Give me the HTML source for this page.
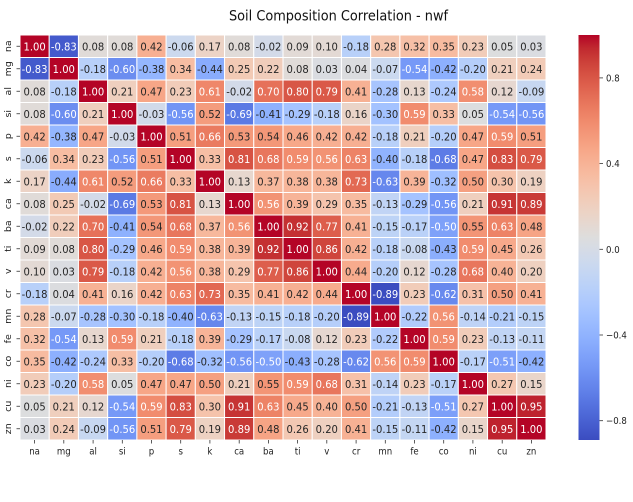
<!DOCTYPE html>
<html><head><meta charset="utf-8">
<style>
html,body{margin:0;padding:0;background:#fff;}
svg{display:block;}
text{font-family:"DejaVu Sans","Liberation Sans",sans-serif;}
.r text{font-size:10px;fill:#262626;text-anchor:middle;}
.tk{font-size:8.6px;fill:#222;}
</style></head>
<body>
<svg id="s" width="633" height="502" viewBox="0 0 633 502" xmlns="http://www.w3.org/2000/svg">
<defs>
<linearGradient id="cb" x1="0" y1="1" x2="0" y2="0">
<stop offset="0" stop-color="rgb(59,76,192)"/><stop offset="0.03125" stop-color="rgb(68,90,204)"/><stop offset="0.0625" stop-color="rgb(77,104,215)"/><stop offset="0.09375" stop-color="rgb(87,117,225)"/><stop offset="0.125" stop-color="rgb(98,130,234)"/><stop offset="0.15625" stop-color="rgb(108,142,241)"/><stop offset="0.1875" stop-color="rgb(119,154,247)"/><stop offset="0.21875" stop-color="rgb(130,165,251)"/><stop offset="0.25" stop-color="rgb(141,176,254)"/><stop offset="0.28125" stop-color="rgb(152,185,255)"/><stop offset="0.3125" stop-color="rgb(163,194,255)"/><stop offset="0.34375" stop-color="rgb(174,201,253)"/><stop offset="0.375" stop-color="rgb(184,208,249)"/><stop offset="0.40625" stop-color="rgb(194,213,244)"/><stop offset="0.4375" stop-color="rgb(204,217,238)"/><stop offset="0.46875" stop-color="rgb(213,219,230)"/><stop offset="0.5" stop-color="rgb(221,221,221)"/><stop offset="0.53125" stop-color="rgb(229,216,209)"/><stop offset="0.5625" stop-color="rgb(236,211,197)"/><stop offset="0.59375" stop-color="rgb(241,204,185)"/><stop offset="0.625" stop-color="rgb(245,196,173)"/><stop offset="0.65625" stop-color="rgb(247,187,160)"/><stop offset="0.6875" stop-color="rgb(247,177,148)"/><stop offset="0.71875" stop-color="rgb(247,166,135)"/><stop offset="0.75" stop-color="rgb(244,154,123)"/><stop offset="0.78125" stop-color="rgb(241,141,111)"/><stop offset="0.8125" stop-color="rgb(236,127,99)"/><stop offset="0.84375" stop-color="rgb(229,112,88)"/><stop offset="0.875" stop-color="rgb(222,96,77)"/><stop offset="0.90625" stop-color="rgb(213,80,66)"/><stop offset="0.9375" stop-color="rgb(203,62,56)"/><stop offset="0.96875" stop-color="rgb(192,40,47)"/><stop offset="1" stop-color="rgb(180,4,38)"/>
</linearGradient>
</defs>
<rect width="633" height="502" fill="#fff"/>
<text x="229" y="0" transform="translate(0,20.5) scale(1,1.1)" text-anchor="start" font-size="12.9" fill="#111">Soil Composition Correlation - nwf</text>
<g id="rects"></g>
<g id="rows">
<g class="r" transform="translate(0,46.25) scale(1,1.1)"><text x="34.6" y="3.65">1.00</text><text x="63.8" y="3.65">-0.83</text><text x="93.1" y="3.65">0.08</text><text x="122.3" y="3.65">0.08</text><text x="151.5" y="3.65">0.42</text><text x="180.7" y="3.65">-0.06</text><text x="209.9" y="3.65">0.17</text><text x="239.2" y="3.65">0.08</text><text x="268.4" y="3.65">-0.02</text><text x="297.6" y="3.65">0.09</text><text x="326.8" y="3.65">0.10</text><text x="356.1" y="3.65">-0.18</text><text x="385.3" y="3.65">0.28</text><text x="414.5" y="3.65">0.32</text><text x="443.7" y="3.65">0.35</text><text x="472.9" y="3.65">0.23</text><text x="502.2" y="3.65">0.05</text><text x="531.4" y="3.65">0.03</text></g>
<g class="r" transform="translate(0,68.75) scale(1,1.1)"><text x="34.6" y="3.65">-0.83</text><text x="63.8" y="3.65">1.00</text><text x="93.1" y="3.65">-0.18</text><text x="122.3" y="3.65">-0.60</text><text x="151.5" y="3.65">-0.38</text><text x="180.7" y="3.65">0.34</text><text x="209.9" y="3.65">-0.44</text><text x="239.2" y="3.65">0.25</text><text x="268.4" y="3.65">0.22</text><text x="297.6" y="3.65">0.08</text><text x="326.8" y="3.65">0.03</text><text x="356.1" y="3.65">0.04</text><text x="385.3" y="3.65">-0.07</text><text x="414.5" y="3.65">-0.54</text><text x="443.7" y="3.65">-0.42</text><text x="472.9" y="3.65">-0.20</text><text x="502.2" y="3.65">0.21</text><text x="531.4" y="3.65">0.24</text></g>
<g class="r" transform="translate(0,91.25) scale(1,1.1)"><text x="34.6" y="3.65">0.08</text><text x="63.8" y="3.65">-0.18</text><text x="93.1" y="3.65">1.00</text><text x="122.3" y="3.65">0.21</text><text x="151.5" y="3.65">0.47</text><text x="180.7" y="3.65">0.23</text><text x="209.9" y="3.65">0.61</text><text x="239.2" y="3.65">-0.02</text><text x="268.4" y="3.65">0.70</text><text x="297.6" y="3.65">0.80</text><text x="326.8" y="3.65">0.79</text><text x="356.1" y="3.65">0.41</text><text x="385.3" y="3.65">-0.28</text><text x="414.5" y="3.65">0.13</text><text x="443.7" y="3.65">-0.24</text><text x="472.9" y="3.65">0.58</text><text x="502.2" y="3.65">0.12</text><text x="531.4" y="3.65">-0.09</text></g>
<g class="r" transform="translate(0,113.75) scale(1,1.1)"><text x="34.6" y="3.65">0.08</text><text x="63.8" y="3.65">-0.60</text><text x="93.1" y="3.65">0.21</text><text x="122.3" y="3.65">1.00</text><text x="151.5" y="3.65">-0.03</text><text x="180.7" y="3.65">-0.56</text><text x="209.9" y="3.65">0.52</text><text x="239.2" y="3.65">-0.69</text><text x="268.4" y="3.65">-0.41</text><text x="297.6" y="3.65">-0.29</text><text x="326.8" y="3.65">-0.18</text><text x="356.1" y="3.65">0.16</text><text x="385.3" y="3.65">-0.30</text><text x="414.5" y="3.65">0.59</text><text x="443.7" y="3.65">0.33</text><text x="472.9" y="3.65">0.05</text><text x="502.2" y="3.65">-0.54</text><text x="531.4" y="3.65">-0.56</text></g>
<g class="r" transform="translate(0,136.25) scale(1,1.1)"><text x="34.6" y="3.65">0.42</text><text x="63.8" y="3.65">-0.38</text><text x="93.1" y="3.65">0.47</text><text x="122.3" y="3.65">-0.03</text><text x="151.5" y="3.65">1.00</text><text x="180.7" y="3.65">0.51</text><text x="209.9" y="3.65">0.66</text><text x="239.2" y="3.65">0.53</text><text x="268.4" y="3.65">0.54</text><text x="297.6" y="3.65">0.46</text><text x="326.8" y="3.65">0.42</text><text x="356.1" y="3.65">0.42</text><text x="385.3" y="3.65">-0.18</text><text x="414.5" y="3.65">0.21</text><text x="443.7" y="3.65">-0.20</text><text x="472.9" y="3.65">0.47</text><text x="502.2" y="3.65">0.59</text><text x="531.4" y="3.65">0.51</text></g>
<g class="r" transform="translate(0,158.75) scale(1,1.1)"><text x="34.6" y="3.65">-0.06</text><text x="63.8" y="3.65">0.34</text><text x="93.1" y="3.65">0.23</text><text x="122.3" y="3.65">-0.56</text><text x="151.5" y="3.65">0.51</text><text x="180.7" y="3.65">1.00</text><text x="209.9" y="3.65">0.33</text><text x="239.2" y="3.65">0.81</text><text x="268.4" y="3.65">0.68</text><text x="297.6" y="3.65">0.59</text><text x="326.8" y="3.65">0.56</text><text x="356.1" y="3.65">0.63</text><text x="385.3" y="3.65">-0.40</text><text x="414.5" y="3.65">-0.18</text><text x="443.7" y="3.65">-0.68</text><text x="472.9" y="3.65">0.47</text><text x="502.2" y="3.65">0.83</text><text x="531.4" y="3.65">0.79</text></g>
<g class="r" transform="translate(0,181.25) scale(1,1.1)"><text x="34.6" y="3.65">0.17</text><text x="63.8" y="3.65">-0.44</text><text x="93.1" y="3.65">0.61</text><text x="122.3" y="3.65">0.52</text><text x="151.5" y="3.65">0.66</text><text x="180.7" y="3.65">0.33</text><text x="209.9" y="3.65">1.00</text><text x="239.2" y="3.65">0.13</text><text x="268.4" y="3.65">0.37</text><text x="297.6" y="3.65">0.38</text><text x="326.8" y="3.65">0.38</text><text x="356.1" y="3.65">0.73</text><text x="385.3" y="3.65">-0.63</text><text x="414.5" y="3.65">0.39</text><text x="443.7" y="3.65">-0.32</text><text x="472.9" y="3.65">0.50</text><text x="502.2" y="3.65">0.30</text><text x="531.4" y="3.65">0.19</text></g>
<g class="r" transform="translate(0,203.75) scale(1,1.1)"><text x="34.6" y="3.65">0.08</text><text x="63.8" y="3.65">0.25</text><text x="93.1" y="3.65">-0.02</text><text x="122.3" y="3.65">-0.69</text><text x="151.5" y="3.65">0.53</text><text x="180.7" y="3.65">0.81</text><text x="209.9" y="3.65">0.13</text><text x="239.2" y="3.65">1.00</text><text x="268.4" y="3.65">0.56</text><text x="297.6" y="3.65">0.39</text><text x="326.8" y="3.65">0.29</text><text x="356.1" y="3.65">0.35</text><text x="385.3" y="3.65">-0.13</text><text x="414.5" y="3.65">-0.29</text><text x="443.7" y="3.65">-0.56</text><text x="472.9" y="3.65">0.21</text><text x="502.2" y="3.65">0.91</text><text x="531.4" y="3.65">0.89</text></g>
<g class="r" transform="translate(0,226.25) scale(1,1.1)"><text x="34.6" y="3.65">-0.02</text><text x="63.8" y="3.65">0.22</text><text x="93.1" y="3.65">0.70</text><text x="122.3" y="3.65">-0.41</text><text x="151.5" y="3.65">0.54</text><text x="180.7" y="3.65">0.68</text><text x="209.9" y="3.65">0.37</text><text x="239.2" y="3.65">0.56</text><text x="268.4" y="3.65">1.00</text><text x="297.6" y="3.65">0.92</text><text x="326.8" y="3.65">0.77</text><text x="356.1" y="3.65">0.41</text><text x="385.3" y="3.65">-0.15</text><text x="414.5" y="3.65">-0.17</text><text x="443.7" y="3.65">-0.50</text><text x="472.9" y="3.65">0.55</text><text x="502.2" y="3.65">0.63</text><text x="531.4" y="3.65">0.48</text></g>
<g class="r" transform="translate(0,248.75) scale(1,1.1)"><text x="34.6" y="3.65">0.09</text><text x="63.8" y="3.65">0.08</text><text x="93.1" y="3.65">0.80</text><text x="122.3" y="3.65">-0.29</text><text x="151.5" y="3.65">0.46</text><text x="180.7" y="3.65">0.59</text><text x="209.9" y="3.65">0.38</text><text x="239.2" y="3.65">0.39</text><text x="268.4" y="3.65">0.92</text><text x="297.6" y="3.65">1.00</text><text x="326.8" y="3.65">0.86</text><text x="356.1" y="3.65">0.42</text><text x="385.3" y="3.65">-0.18</text><text x="414.5" y="3.65">-0.08</text><text x="443.7" y="3.65">-0.43</text><text x="472.9" y="3.65">0.59</text><text x="502.2" y="3.65">0.45</text><text x="531.4" y="3.65">0.26</text></g>
<g class="r" transform="translate(0,271.25) scale(1,1.1)"><text x="34.6" y="3.65">0.10</text><text x="63.8" y="3.65">0.03</text><text x="93.1" y="3.65">0.79</text><text x="122.3" y="3.65">-0.18</text><text x="151.5" y="3.65">0.42</text><text x="180.7" y="3.65">0.56</text><text x="209.9" y="3.65">0.38</text><text x="239.2" y="3.65">0.29</text><text x="268.4" y="3.65">0.77</text><text x="297.6" y="3.65">0.86</text><text x="326.8" y="3.65">1.00</text><text x="356.1" y="3.65">0.44</text><text x="385.3" y="3.65">-0.20</text><text x="414.5" y="3.65">0.12</text><text x="443.7" y="3.65">-0.28</text><text x="472.9" y="3.65">0.68</text><text x="502.2" y="3.65">0.40</text><text x="531.4" y="3.65">0.20</text></g>
<g class="r" transform="translate(0,293.75) scale(1,1.1)"><text x="34.6" y="3.65">-0.18</text><text x="63.8" y="3.65">0.04</text><text x="93.1" y="3.65">0.41</text><text x="122.3" y="3.65">0.16</text><text x="151.5" y="3.65">0.42</text><text x="180.7" y="3.65">0.63</text><text x="209.9" y="3.65">0.73</text><text x="239.2" y="3.65">0.35</text><text x="268.4" y="3.65">0.41</text><text x="297.6" y="3.65">0.42</text><text x="326.8" y="3.65">0.44</text><text x="356.1" y="3.65">1.00</text><text x="385.3" y="3.65">-0.89</text><text x="414.5" y="3.65">0.23</text><text x="443.7" y="3.65">-0.62</text><text x="472.9" y="3.65">0.31</text><text x="502.2" y="3.65">0.50</text><text x="531.4" y="3.65">0.41</text></g>
<g class="r" transform="translate(0,316.25) scale(1,1.1)"><text x="34.6" y="3.65">0.28</text><text x="63.8" y="3.65">-0.07</text><text x="93.1" y="3.65">-0.28</text><text x="122.3" y="3.65">-0.30</text><text x="151.5" y="3.65">-0.18</text><text x="180.7" y="3.65">-0.40</text><text x="209.9" y="3.65">-0.63</text><text x="239.2" y="3.65">-0.13</text><text x="268.4" y="3.65">-0.15</text><text x="297.6" y="3.65">-0.18</text><text x="326.8" y="3.65">-0.20</text><text x="356.1" y="3.65">-0.89</text><text x="385.3" y="3.65">1.00</text><text x="414.5" y="3.65">-0.22</text><text x="443.7" y="3.65">0.56</text><text x="472.9" y="3.65">-0.14</text><text x="502.2" y="3.65">-0.21</text><text x="531.4" y="3.65">-0.15</text></g>
<g class="r" transform="translate(0,338.75) scale(1,1.1)"><text x="34.6" y="3.65">0.32</text><text x="63.8" y="3.65">-0.54</text><text x="93.1" y="3.65">0.13</text><text x="122.3" y="3.65">0.59</text><text x="151.5" y="3.65">0.21</text><text x="180.7" y="3.65">-0.18</text><text x="209.9" y="3.65">0.39</text><text x="239.2" y="3.65">-0.29</text><text x="268.4" y="3.65">-0.17</text><text x="297.6" y="3.65">-0.08</text><text x="326.8" y="3.65">0.12</text><text x="356.1" y="3.65">0.23</text><text x="385.3" y="3.65">-0.22</text><text x="414.5" y="3.65">1.00</text><text x="443.7" y="3.65">0.59</text><text x="472.9" y="3.65">0.23</text><text x="502.2" y="3.65">-0.13</text><text x="531.4" y="3.65">-0.11</text></g>
<g class="r" transform="translate(0,361.25) scale(1,1.1)"><text x="34.6" y="3.65">0.35</text><text x="63.8" y="3.65">-0.42</text><text x="93.1" y="3.65">-0.24</text><text x="122.3" y="3.65">0.33</text><text x="151.5" y="3.65">-0.20</text><text x="180.7" y="3.65">-0.68</text><text x="209.9" y="3.65">-0.32</text><text x="239.2" y="3.65">-0.56</text><text x="268.4" y="3.65">-0.50</text><text x="297.6" y="3.65">-0.43</text><text x="326.8" y="3.65">-0.28</text><text x="356.1" y="3.65">-0.62</text><text x="385.3" y="3.65">0.56</text><text x="414.5" y="3.65">0.59</text><text x="443.7" y="3.65">1.00</text><text x="472.9" y="3.65">-0.17</text><text x="502.2" y="3.65">-0.51</text><text x="531.4" y="3.65">-0.42</text></g>
<g class="r" transform="translate(0,383.75) scale(1,1.1)"><text x="34.6" y="3.65">0.23</text><text x="63.8" y="3.65">-0.20</text><text x="93.1" y="3.65">0.58</text><text x="122.3" y="3.65">0.05</text><text x="151.5" y="3.65">0.47</text><text x="180.7" y="3.65">0.47</text><text x="209.9" y="3.65">0.50</text><text x="239.2" y="3.65">0.21</text><text x="268.4" y="3.65">0.55</text><text x="297.6" y="3.65">0.59</text><text x="326.8" y="3.65">0.68</text><text x="356.1" y="3.65">0.31</text><text x="385.3" y="3.65">-0.14</text><text x="414.5" y="3.65">0.23</text><text x="443.7" y="3.65">-0.17</text><text x="472.9" y="3.65">1.00</text><text x="502.2" y="3.65">0.27</text><text x="531.4" y="3.65">0.15</text></g>
<g class="r" transform="translate(0,406.25) scale(1,1.1)"><text x="34.6" y="3.65">0.05</text><text x="63.8" y="3.65">0.21</text><text x="93.1" y="3.65">0.12</text><text x="122.3" y="3.65">-0.54</text><text x="151.5" y="3.65">0.59</text><text x="180.7" y="3.65">0.83</text><text x="209.9" y="3.65">0.30</text><text x="239.2" y="3.65">0.91</text><text x="268.4" y="3.65">0.63</text><text x="297.6" y="3.65">0.45</text><text x="326.8" y="3.65">0.40</text><text x="356.1" y="3.65">0.50</text><text x="385.3" y="3.65">-0.21</text><text x="414.5" y="3.65">-0.13</text><text x="443.7" y="3.65">-0.51</text><text x="472.9" y="3.65">0.27</text><text x="502.2" y="3.65">1.00</text><text x="531.4" y="3.65">0.95</text></g>
<g class="r" transform="translate(0,428.75) scale(1,1.1)"><text x="34.6" y="3.65">0.03</text><text x="63.8" y="3.65">0.24</text><text x="93.1" y="3.65">-0.09</text><text x="122.3" y="3.65">-0.56</text><text x="151.5" y="3.65">0.51</text><text x="180.7" y="3.65">0.79</text><text x="209.9" y="3.65">0.19</text><text x="239.2" y="3.65">0.89</text><text x="268.4" y="3.65">0.48</text><text x="297.6" y="3.65">0.26</text><text x="326.8" y="3.65">0.20</text><text x="356.1" y="3.65">0.41</text><text x="385.3" y="3.65">-0.15</text><text x="414.5" y="3.65">-0.11</text><text x="443.7" y="3.65">-0.42</text><text x="472.9" y="3.65">0.15</text><text x="502.2" y="3.65">0.95</text><text x="531.4" y="3.65">1.00</text></g>
</g>
<g stroke="#333" stroke-width="0.8">
<line x1="34.6" y1="440" x2="34.6" y2="443.5"/><line x1="63.8" y1="440" x2="63.8" y2="443.5"/><line x1="93.1" y1="440" x2="93.1" y2="443.5"/><line x1="122.3" y1="440" x2="122.3" y2="443.5"/><line x1="151.5" y1="440" x2="151.5" y2="443.5"/><line x1="180.7" y1="440" x2="180.7" y2="443.5"/><line x1="209.9" y1="440" x2="209.9" y2="443.5"/><line x1="239.2" y1="440" x2="239.2" y2="443.5"/><line x1="268.4" y1="440" x2="268.4" y2="443.5"/><line x1="297.6" y1="440" x2="297.6" y2="443.5"/><line x1="326.8" y1="440" x2="326.8" y2="443.5"/><line x1="356.1" y1="440" x2="356.1" y2="443.5"/><line x1="385.3" y1="440" x2="385.3" y2="443.5"/><line x1="414.5" y1="440" x2="414.5" y2="443.5"/><line x1="443.7" y1="440" x2="443.7" y2="443.5"/><line x1="472.9" y1="440" x2="472.9" y2="443.5"/><line x1="502.2" y1="440" x2="502.2" y2="443.5"/><line x1="531.4" y1="440" x2="531.4" y2="443.5"/>
<line x1="16.5" y1="46.25" x2="20" y2="46.25"/><line x1="16.5" y1="68.75" x2="20" y2="68.75"/><line x1="16.5" y1="91.25" x2="20" y2="91.25"/><line x1="16.5" y1="113.75" x2="20" y2="113.75"/><line x1="16.5" y1="136.25" x2="20" y2="136.25"/><line x1="16.5" y1="158.75" x2="20" y2="158.75"/><line x1="16.5" y1="181.25" x2="20" y2="181.25"/><line x1="16.5" y1="203.75" x2="20" y2="203.75"/><line x1="16.5" y1="226.25" x2="20" y2="226.25"/><line x1="16.5" y1="248.75" x2="20" y2="248.75"/><line x1="16.5" y1="271.25" x2="20" y2="271.25"/><line x1="16.5" y1="293.75" x2="20" y2="293.75"/><line x1="16.5" y1="316.25" x2="20" y2="316.25"/><line x1="16.5" y1="338.75" x2="20" y2="338.75"/><line x1="16.5" y1="361.25" x2="20" y2="361.25"/><line x1="16.5" y1="383.75" x2="20" y2="383.75"/><line x1="16.5" y1="406.25" x2="20" y2="406.25"/><line x1="16.5" y1="428.75" x2="20" y2="428.75"/>
</g>
<g class="tk" text-anchor="middle" transform="translate(0,454.5) scale(1,1.1)">
<text x="34.6" y="0">na</text><text x="63.8" y="0">mg</text><text x="93.1" y="0">al</text><text x="122.3" y="0">si</text><text x="151.5" y="0">p</text><text x="180.7" y="0">s</text><text x="209.9" y="0">k</text><text x="239.2" y="0">ca</text><text x="268.4" y="0">ba</text><text x="297.6" y="0">ti</text><text x="326.8" y="0">v</text><text x="356.1" y="0">cr</text><text x="385.3" y="0">mn</text><text x="414.5" y="0">fe</text><text x="443.7" y="0">co</text><text x="472.9" y="0">ni</text><text x="502.2" y="0">cu</text><text x="531.4" y="0">zn</text>
</g>
<g class="tk" text-anchor="middle">
<text transform="translate(11,46.25) scale(1,1.1) rotate(-90)">na</text>
<text transform="translate(11,68.75) scale(1,1.1) rotate(-90)">mg</text>
<text transform="translate(11,91.25) scale(1,1.1) rotate(-90)">al</text>
<text transform="translate(11,113.75) scale(1,1.1) rotate(-90)">si</text>
<text transform="translate(11,136.25) scale(1,1.1) rotate(-90)">p</text>
<text transform="translate(11,158.75) scale(1,1.1) rotate(-90)">s</text>
<text transform="translate(11,181.25) scale(1,1.1) rotate(-90)">k</text>
<text transform="translate(11,203.75) scale(1,1.1) rotate(-90)">ca</text>
<text transform="translate(11,226.25) scale(1,1.1) rotate(-90)">ba</text>
<text transform="translate(11,248.75) scale(1,1.1) rotate(-90)">ti</text>
<text transform="translate(11,271.25) scale(1,1.1) rotate(-90)">v</text>
<text transform="translate(11,293.75) scale(1,1.1) rotate(-90)">cr</text>
<text transform="translate(11,316.25) scale(1,1.1) rotate(-90)">mn</text>
<text transform="translate(11,338.75) scale(1,1.1) rotate(-90)">fe</text>
<text transform="translate(11,361.25) scale(1,1.1) rotate(-90)">co</text>
<text transform="translate(11,383.75) scale(1,1.1) rotate(-90)">ni</text>
<text transform="translate(11,406.25) scale(1,1.1) rotate(-90)">cu</text>
<text transform="translate(11,428.75) scale(1,1.1) rotate(-90)">zn</text>
</g>
<rect x="578.5" y="35" width="21" height="405" fill="url(#cb)"/>
<g stroke="#333" stroke-width="0.8">
<line x1="599.5" y1="77.9" x2="603" y2="77.9"/><line x1="599.5" y1="163.6" x2="603" y2="163.6"/><line x1="599.5" y1="249.3" x2="603" y2="249.3"/><line x1="599.5" y1="335" x2="603" y2="335"/><line x1="599.5" y1="420.7" x2="603" y2="420.7"/>
</g>
<g class="tk">
<text transform="translate(606,81.4) scale(1,1.1)">0.8</text>
<text transform="translate(606,167.1) scale(1,1.1)">0.4</text>
<text transform="translate(606,252.8) scale(1,1.1)">0.0</text>
<text transform="translate(606,338.5) scale(1,1.1)">−0.4</text>
<text transform="translate(606,424.2) scale(1,1.1)">−0.8</text>
</g>
</svg>
<script>
(function(){
var S=[[59,76,192],[68,90,204],[77,104,215],[87,117,225],[98,130,234],[108,142,241],[119,154,247],[130,165,251],[141,176,254],[152,185,255],[163,194,255],[174,201,253],[184,208,249],[194,213,244],[204,217,238],[213,219,230],[221,221,221],[229,216,209],[236,211,197],[241,204,185],[245,196,173],[247,187,160],[247,177,148],[247,166,135],[244,154,123],[241,141,111],[236,127,99],[229,112,88],[222,96,77],[213,80,66],[203,62,56],[192,40,47],[180,4,38]];
function cw(t){t=Math.max(0,Math.min(1,t));var p=t*32,i=Math.min(31,Math.floor(p)),f=p-i;var a=S[i],b=S[i+1];return 'rgb('+Math.round(a[0]+(b[0]-a[0])*f)+','+Math.round(a[1]+(b[1]-a[1])*f)+','+Math.round(a[2]+(b[2]-a[2])*f)+')';}
var NS='http://www.w3.org/2000/svg';
var vmin=-0.89,vmax=1.0,x0=20,y0=35,W=526/18,H=405/18;
var rects=document.getElementById('rects');
var rows=document.querySelectorAll('#rows > g');
for(var i=0;i<rows.length;i++){
  var ts=rows[i].querySelectorAll('text');
  for(var j=0;j<ts.length;j++){
    var v=parseFloat(ts[j].textContent);
    var r=document.createElementNS(NS,'rect');
    r.setAttribute('x',x0+j*W);r.setAttribute('y',y0+i*H);
    r.setAttribute('width',W);r.setAttribute('height',H);
    r.setAttribute('fill',cw((v-vmin)/(vmax-vmin)));
    r.setAttribute('stroke','#fff');r.setAttribute('stroke-width','1');
    rects.appendChild(r);
    if(v>=0.555||v<=-0.495){ts[j].style.fill='#fff';}
  }
}
})();
</script>
</body></html>
